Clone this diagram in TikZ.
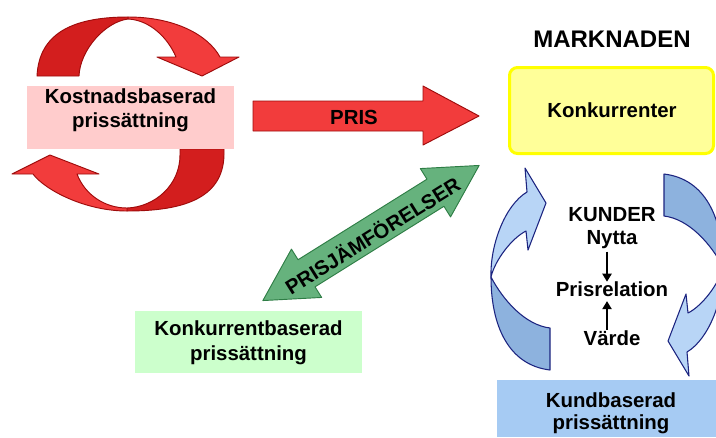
\documentclass[tikz,border=0pt]{standalone}
\usepackage{fontspec}
\setmainfont{Liberation Sans}
\usetikzlibrary{arrows.meta}
\definecolor{pinkbox}{HTML}{FFCCCC}
\definecolor{greenbox}{HTML}{CCFFCC}
\definecolor{yellowfill}{HTML}{FFFF99}
\definecolor{yellowline}{HTML}{FFFF00}
\definecolor{bluebox}{HTML}{A6CBF3}
\definecolor{redlight}{HTML}{F23C3C}
\definecolor{reddark}{HTML}{D31E1E}
\definecolor{redline}{HTML}{9E0B0B}
\definecolor{greenfill}{HTML}{66B27D}
\definecolor{greenline}{HTML}{2E7D45}
\definecolor{bluelight}{HTML}{B8D5F6}
\definecolor{bluedark}{HTML}{8DB2DE}
\definecolor{blueline}{HTML}{1C2480}
\newcommand{\bluecurl}{%
  \path[fill=bluedark, draw=blueline, line width=0.8pt, line join=round]
    (491,277) .. controls (491,325) and (508,365) .. (550,370)
    -- (550,328) .. controls (525,325) and (503,300) .. (491,277) -- cycle;
  \path[fill=bluelight, draw=blueline, line width=0.8pt, line join=round]
    (491,277) .. controls (490,245) and (505,205) .. (527,192)
    -- (525,168) -- (546,203) -- (528,250) -- (526,231)
    .. controls (512,238) and (495,260) .. (491,277) -- cycle;
}
\begin{document}
\begin{tikzpicture}[x=0.75pt,y=-0.75pt,
  lbl/.style={font=\bfseries\fontsize{15.3}{18}\selectfont, align=center, inner sep=0pt, text=black},
  redshape/.style={draw=redline, line width=0.7pt, line join=round},
  smallarrow/.style={-{Triangle[length=6pt,width=7pt]}, line width=1.1pt}]
\useasboundingbox (0,0) rectangle (716,437);
\clip (0,0) rectangle (716,437);

% --- red circular arrows around the cost box
\path[redshape, fill=redlight]
  (128,17) .. controls (175,17) and (208,35) .. (220,57)
  -- (239,57) -- (202,76) -- (157,57) -- (176,57)
  .. controls (168,38) and (150,20) .. (128,19) -- cycle;
\path[redshape, fill=reddark]
  (37,76) .. controls (39,35) and (70,17) .. (128,17)
  -- (128,19) .. controls (105,22) and (80,50) .. (79,76) -- cycle;
\path[redshape, fill=reddark]
  (224,149) -- (224,155) .. controls (223,200) and (180,211) .. (127,211)
  -- (127,208) .. controls (155,207) and (180,185) .. (180,155) -- (180,149) -- cycle;
\path[redshape, fill=redlight]
  (127,211) .. controls (85,211) and (45,190) .. (33,174)
  -- (12,174) -- (50,155) -- (99,174) -- (77,174)
  .. controls (85,195) and (105,208) .. (127,208) -- cycle;

% --- cost box
\fill[pinkbox] (27,86) rectangle (234,149);
\node[lbl] (kost) at (130.5,110.7) {Kostnadsbaserad\\prissättning};

% --- PRIS arrow
\path[redshape, fill=redlight]
  (253,101) -- (423,101) -- (423,86) -- (479,116) -- (423,145) -- (423,131) -- (253,131) -- cycle;
\node[lbl, anchor=base] (pris) at (354,124) {PRIS};

% --- market
\node[lbl, anchor=base, font=\bfseries\fontsize{18}{21}\selectfont] (markn) at (612,47.7) {MARKNADEN};
\draw[yellowline, fill=yellowfill, line width=2.25pt, rounded corners=6pt] (509.5,67.5) rectangle (713.5,153.5);
\node[lbl, anchor=base] (konk) at (612,117.3) {Konkurrenter};

% --- green double arrow
\begin{scope}[shift={(371,233)}, rotate=32]
  \path[draw=greenline, fill=greenfill, line width=0.7pt, line join=round]
    (-127.5,0) -- (-76,-28.5) -- (-76,-16) -- (76,-16) -- (76,-28.5) -- (127.5,0)
    -- (76,28.5) -- (76,16) -- (-76,16) -- (-76,28.5) -- cycle;
\end{scope}
\node[lbl, rotate=32] (pj) at (372,235) {PRISJÄMFÖRELSER};

% --- competitor based box
\fill[greenbox] (135,311) rectangle (362,373);
\node[lbl, font=\bfseries\fontsize{15.3}{18.75}\selectfont] (konkb) at (248.5,343) {Konkurrentbaserad\\prissättning};

% --- blue circular arrows
\bluecurl
\begin{scope}[shift={(1214,544)}, rotate=180]
  \bluecurl
\end{scope}

% --- customers
\node[lbl, anchor=base] (kunder) at (612,221.7) {KUNDER};
\node[lbl, anchor=base] (nytta) at (612,244.5) {Nytta};
\node[lbl, anchor=base] (prisrel) at (612,296.7) {Prisrelation};
\node[lbl, anchor=base] (varde) at (612,345) {Värde};
\draw[smallarrow, shorten <=2pt] ([xshift=-3.75pt]nytta.south) -- ([xshift=-3.75pt]prisrel.north);
\draw[smallarrow, shorten >=3pt] ([xshift=-3.75pt]varde.north) -- ([xshift=-3.75pt]prisrel.south);

% --- customer based box
\fill[bluebox] (497,380) rectangle (716,437);
\node[lbl, font=\bfseries\fontsize{15.3}{16.5}\selectfont] (kundb) at (611,413.7) {Kundbaserad\\prissättning};
\end{tikzpicture}
\end{document}
